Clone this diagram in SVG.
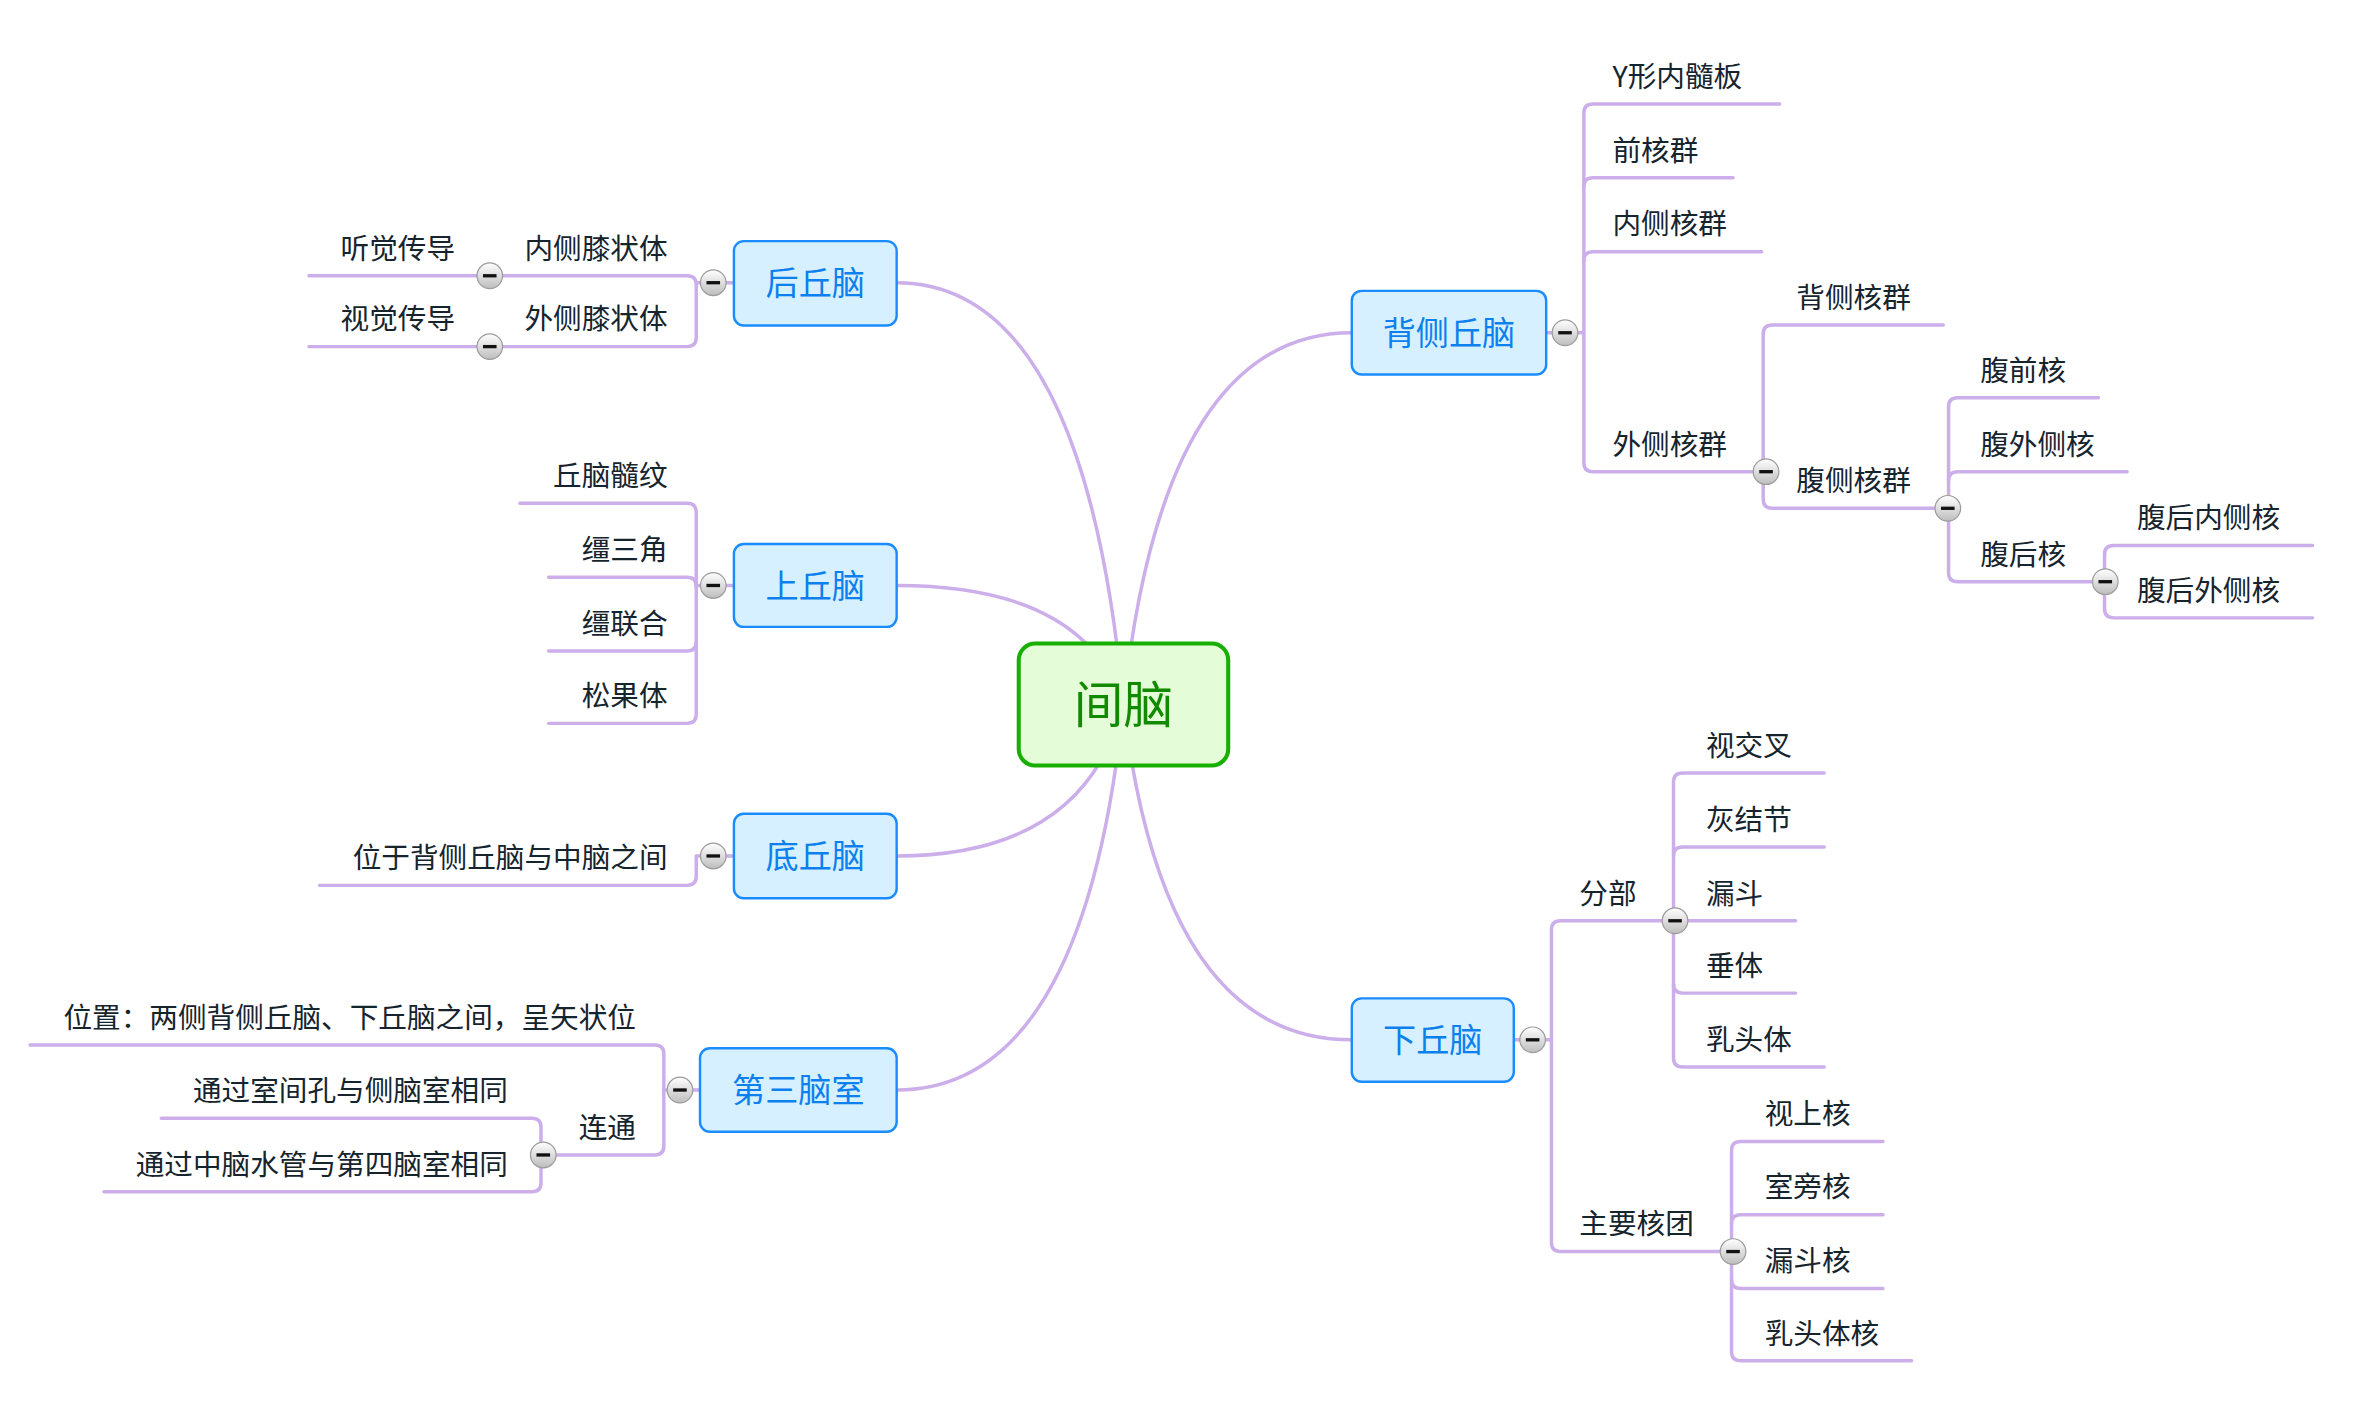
<svg xmlns="http://www.w3.org/2000/svg" xmlns:xlink="http://www.w3.org/1999/xlink" width="2362" height="1424" viewBox="0 0 2362 1424">
<defs>
<style>
.c{fill:none;stroke:#cbaeea;stroke-width:2.3;stroke-linecap:round;stroke-linejoin:round}
.t{font-family:"Noto Sans CJK SC","Noto Sans",sans-serif;font-size:19px;fill:#16242e}
.e{text-anchor:end}
.tb rect{fill:#d6f0ff;stroke:#1a8cff;stroke-width:1.6}
.tb text{font-family:"Noto Sans CJK SC","Noto Sans",sans-serif;font-size:22px;fill:#0b80ee;text-anchor:middle}
</style>
<linearGradient id="bg" x1="0" y1="0" x2="0" y2="1">
<stop offset="0" stop-color="#ffffff"/>
<stop offset="1" stop-color="#bdbdbd"/>
</linearGradient>
<g id="btn">
<circle r="8.5" fill="url(#bg)" stroke="#9c9c9c" stroke-width="0.8"/>
<rect x="-4.5" y="-1.1" width="9" height="2.2" fill="#111"/>
</g>
</defs>
<rect width="2362" height="1424" fill="#ffffff"/>
<g transform="scale(1.507)">
<g id="connectors">
<path class="c" d="M745.5 467.5 Q719.5 187.6 595 187.6"/>
<path class="c" d="M745.5 467.5 Q719.5 388.5 595 388.5"/>
<path class="c" d="M745.5 467.5 Q719.5 568 595 568"/>
<path class="c" d="M745.5 467.5 Q719.5 723.3 595 723.3"/>
<path class="c" d="M745.5 467.5 Q771.5 220.8 897 220.8"/>
<path class="c" d="M745.5 467.5 Q771.5 690 897 690"/>
<!-- 后丘脑 -->
<path class="c" d="M487 187.6 H462"/>
<path class="c" d="M205 183 H456 Q462 183 462 189 V224 Q462 230 456 230 H205"/>
<!-- 上丘脑 -->
<path class="c" d="M487 388.5 H462"/>
<path class="c" d="M345 334 H456 Q462 334 462 340 V474 Q462 480 456 480 H364"/>
<path class="c" d="M462 389 Q462 383 456 383 H364"/>
<path class="c" d="M462 426 Q462 432 456 432 H364"/>
<!-- 底丘脑 -->
<path class="c" d="M487 568 H462 V581.5 Q462 587.5 456 587.5 H212"/>
<!-- 第三脑室 -->
<path class="c" d="M465 723.3 H440.5"/>
<path class="c" d="M20 693.4 H434.5 Q440.5 693.4 440.5 699.4 V760.4 Q440.5 766.4 434.5 766.4 H360.5"/>
<path class="c" d="M107 742 H353 Q359 742 359 748 V784.8 Q359 790.8 353 790.8 H69"/>
<!-- 背侧丘脑 -->
<path class="c" d="M1026 220.8 H1051"/>
<path class="c" d="M1181 69 H1057 Q1051 69 1051 75 V307 Q1051 313 1057 313 H1172"/>
<path class="c" d="M1051 124 Q1051 118 1057 118 H1150"/>
<path class="c" d="M1051 173 Q1051 167 1057 167 H1169"/>
<path class="c" d="M1289.5 215.7 H1176 Q1170 215.7 1170 221.7 V331.3 Q1170 337.3 1176 337.3 H1292"/>
<path class="c" d="M1392.5 264 H1299 Q1293 264 1293 270 V380 Q1293 386 1299 386 H1397"/>
<path class="c" d="M1293 319 Q1293 313 1299 313 H1411.5"/>
<path class="c" d="M1534.5 362 H1402.5 Q1396.5 362 1396.5 368 V404 Q1396.5 410 1402.5 410 H1534.5"/>
<!-- 下丘脑 -->
<path class="c" d="M1004.5 690 H1029.5"/>
<path class="c" d="M1111.5 611 H1035.5 Q1029.5 611 1029.5 617 V824.5 Q1029.5 830.5 1035.5 830.5 H1150"/>
<path class="c" d="M1210.5 513 H1116.5 Q1110.5 513 1110.5 519 V702 Q1110.5 708 1116.5 708 H1210.5"/>
<path class="c" d="M1110.5 568 Q1110.5 562 1116.5 562 H1210.5"/>
<path class="c" d="M1110.5 611 H1191.5"/>
<path class="c" d="M1110.5 653 Q1110.5 659 1116.5 659 H1191.5"/>
<path class="c" d="M1249.5 757.5 H1155 Q1149 757.5 1149 763.5 V897 Q1149 903 1155 903 H1268.5"/>
<path class="c" d="M1149 812 Q1149 806 1155 806 H1249.5"/>
<path class="c" d="M1149 849 Q1149 855 1155 855 H1249.5"/>
</g>
<g id="central">
<rect x="676" y="427" width="139" height="81" rx="11" fill="#e4fdd8" stroke="#17b000" stroke-width="2.7"/>
<text x="745.5" y="480" font-family="Noto Sans CJK SC, Noto Sans, sans-serif" font-size="33" fill="#128a00" text-anchor="middle">间脑</text>
</g>
<g id="houqiunao" class="tb"><rect x="487" y="160" width="108" height="56" rx="6.5"/><text x="541" y="196">后丘脑</text></g>
<g id="shangqiunao" class="tb"><rect x="487" y="361" width="108" height="55" rx="6.5"/><text x="541" y="396.7">上丘脑</text></g>
<g id="diqiunao" class="tb"><rect x="487" y="540" width="108" height="56" rx="6.5"/><text x="541" y="576.2">底丘脑</text></g>
<g id="disannaoshi" class="tb"><rect x="464.5" y="695.6" width="130.5" height="55.4" rx="6.5"/><text x="529.75" y="731.5">第三脑室</text></g>
<g id="beiceqiunao" class="tb"><rect x="897" y="193" width="129" height="55.5" rx="6.5"/><text x="961.5" y="229">背侧丘脑</text></g>
<g id="xiaqiunao" class="tb"><rect x="897" y="662.5" width="107.5" height="55.3" rx="6.5"/><text x="950.7" y="698.2">下丘脑</text></g>
<g id="left-labels">
<g id="n-tingjue"><text class="t e" x="302" y="171.6">听觉传导</text></g>
<g id="n-neice"><text class="t e" x="443" y="171.6">内侧膝状体</text></g>
<g id="n-shijue"><text class="t e" x="302" y="218.6">视觉传导</text></g>
<g id="n-waice"><text class="t e" x="443" y="218.6">外侧膝状体</text></g>
<g id="n-suiwen"><text class="t e" x="443" y="322.6">丘脑髓纹</text></g>
<g id="n-sanjiao"><text class="t e" x="443" y="371.6">缰三角</text></g>
<g id="n-lianhe"><text class="t e" x="443" y="420.6">缰联合</text></g>
<g id="n-songguo"><text class="t e" x="443" y="468.6">松果体</text></g>
<g id="n-weiyu"><text class="t e" x="443" y="576.1">位于背侧丘脑与中脑之间</text></g>
<g id="n-weizhi"><text class="t e" x="422" y="682">位置：两侧背侧丘脑、下丘脑之间，呈矢状位</text></g>
<g id="n-liantong"><text class="t e" x="422" y="755">连通</text></g>
<g id="n-shijian"><text class="t e" x="337" y="730.6">通过室间孔与侧脑室相同</text></g>
<g id="n-zhongnao"><text class="t e" x="337" y="779.4">通过中脑水管与第四脑室相同</text></g>
</g>
<g id="right-labels">
<g id="n-yxing"><text class="t" x="1070" y="57.6">Y形内髓板</text></g>
<g id="n-qianhe"><text class="t" x="1070" y="106.6">前核群</text></g>
<g id="n-neicehe"><text class="t" x="1070" y="155.6">内侧核群</text></g>
<g id="n-waicehe"><text class="t" x="1070" y="301.6">外侧核群</text></g>
<g id="n-beicehe"><text class="t" x="1192" y="204.3">背侧核群</text></g>
<g id="n-fucehe"><text class="t" x="1192" y="325.9">腹侧核群</text></g>
<g id="n-fuqian"><text class="t" x="1314" y="252.6">腹前核</text></g>
<g id="n-fuwai"><text class="t" x="1314" y="301.6">腹外侧核</text></g>
<g id="n-fuhou"><text class="t" x="1314" y="374.6">腹后核</text></g>
<g id="n-fuhounei"><text class="t" x="1418" y="350.6">腹后内侧核</text></g>
<g id="n-fuhouwai"><text class="t" x="1418" y="398.6">腹后外侧核</text></g>
<g id="n-fenbu"><text class="t" x="1048" y="599.6">分部</text></g>
<g id="n-zhuyao"><text class="t" x="1048" y="819.1">主要核团</text></g>
<g id="n-shijiaocha"><text class="t" x="1132" y="501.6">视交叉</text></g>
<g id="n-huijie"><text class="t" x="1132" y="550.6">灰结节</text></g>
<g id="n-loudou"><text class="t" x="1132" y="599.6">漏斗</text></g>
<g id="n-chuiti"><text class="t" x="1132" y="647.6">垂体</text></g>
<g id="n-rutouti"><text class="t" x="1132" y="696.6">乳头体</text></g>
<g id="n-shishang"><text class="t" x="1171" y="746.1">视上核</text></g>
<g id="n-shipang"><text class="t" x="1171" y="794.6">室旁核</text></g>
<g id="n-loudouhe"><text class="t" x="1171" y="843.6">漏斗核</text></g>
<g id="n-rutoutihe"><text class="t" x="1171" y="891.6">乳头体核</text></g>
</g>
<g id="buttons">
<use xlink:href="#btn" x="473.3" y="187.6"/>
<use xlink:href="#btn" x="325" y="183"/>
<use xlink:href="#btn" x="325" y="230"/>
<use xlink:href="#btn" x="473.3" y="388.5"/>
<use xlink:href="#btn" x="473.3" y="568"/>
<use xlink:href="#btn" x="451.2" y="723.3"/>
<use xlink:href="#btn" x="360.5" y="766.4"/>
<use xlink:href="#btn" x="1038.5" y="220.8"/>
<use xlink:href="#btn" x="1171.9" y="313"/>
<use xlink:href="#btn" x="1292.5" y="337.3"/>
<use xlink:href="#btn" x="1397" y="386"/>
<use xlink:href="#btn" x="1017" y="690"/>
<use xlink:href="#btn" x="1111.5" y="611"/>
<use xlink:href="#btn" x="1150" y="830.5"/>
</g>
</g>
</svg>
